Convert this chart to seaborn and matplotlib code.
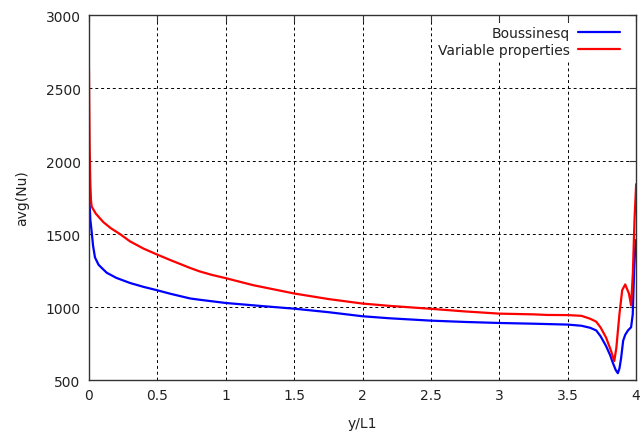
import numpy as np
import pandas as pd
import matplotlib
matplotlib.use("Agg")
import matplotlib.pyplot as plt
import seaborn as sns

# ---------------- DATA ----------------
x_bous = [0, 0.003, 0.006, 0.01, 0.02, 0.03, 0.044, 0.07, 0.1, 0.13, 0.2, 0.3,
          0.4, 0.495, 0.6, 0.739, 0.81, 1.0, 1.25, 1.5, 1.75, 2.0, 2.2, 2.5,
          2.75, 3.0, 3.25, 3.5, 3.6, 3.664, 3.708, 3.74, 3.78, 3.81, 3.83, 3.85,
          3.866, 3.878, 3.89, 3.905, 3.92, 3.94, 3.963, 3.975, 3.985, 3.993, 4.0]
nu_bous = [1970, 1800, 1680, 1600, 1514, 1420, 1340, 1290, 1262, 1235, 1200, 1165,
           1138, 1116, 1090, 1059, 1050, 1028, 1008, 989, 965, 937, 923, 907,
           898, 891, 886, 880, 872, 858, 840, 800, 733, 670, 617, 570,
           547, 580, 651, 770, 810, 840, 862, 950, 1250, 1400, 1460]

x_var = [0, 0.002, 0.005, 0.01, 0.015, 0.02, 0.05, 0.105, 0.16, 0.227, 0.3, 0.4,
         0.495, 0.6, 0.739, 0.81, 0.9, 1.0, 1.2, 1.5, 1.75, 2.0, 2.2, 2.5, 2.75,
         3.0, 3.25, 3.35, 3.5, 3.6, 3.664, 3.708, 3.74, 3.78, 3.817, 3.84, 3.855,
         3.878, 3.898, 3.92, 3.947, 3.963, 3.976, 3.988, 4.0]
nu_var = [2630, 2400, 2100, 1850, 1730, 1688, 1640, 1582, 1540, 1500, 1450, 1400,
          1361, 1320, 1268, 1244, 1220, 1198, 1150, 1093, 1055, 1024, 1008, 988, 970,
          955, 950, 946, 945, 940, 920, 900, 860, 791, 698, 630, 720,
          954, 1116, 1155, 1093, 1012, 1233, 1600, 1842]

labels = ["Boussinesq", "Variable properties"]
colors = ["#0000ff", "#ff0000"]

df = pd.concat([
    pd.DataFrame({"y/L1": x_bous, "avg(Nu)": nu_bous, "case": labels[0]}),
    pd.DataFrame({"y/L1": x_var, "avg(Nu)": nu_var, "case": labels[1]}),
])

# ---------------- PLOT ----------------
sns.set_style("white")
plt.rcParams["font.family"] = ["DejaVu Sans"]
plt.rcParams["text.color"] = "#222222"

fig = plt.figure(figsize=(6.4, 4.35), dpi=100)
ax = fig.add_axes([0.139, 0.124, 0.855, 0.839])

sns.lineplot(data=df, x="y/L1", y="avg(Nu)", hue="case",
             palette=dict(zip(labels, colors)), sort=False, estimator=None,
             linewidth=1.6, ax=ax)

ax.set_xlim(0, 4)
ax.set_ylim(500, 3000)
ax.set_xticks(np.arange(0, 4.01, 0.5))
ax.set_xticklabels(["0", "0.5", "1", "1.5", "2", "2.5", "3", "3.5", "4"])
ax.set_yticks(np.arange(500, 3001, 500))

ax.grid(True, color="black", linestyle=(0, (3, 3)), linewidth=0.7)
ax.set_axisbelow(True)
for s in ax.spines.values():
    s.set_color("#333333")
    s.set_linewidth(1.0)
ax.tick_params(direction="in", length=5, color="#333333", labelsize=10,
               labelcolor="#222222", top=True, right=True, pad=6)

ax.set_xlabel("y/L1", fontsize=10, color="#222222", labelpad=10)
ax.set_ylabel("avg(Nu)", fontsize=10, color="#222222", labelpad=12)

# gnuplot-style key: blank box over the grid, text before sample
leg = ax.legend(loc="upper right", bbox_to_anchor=(0.99, 1.0), frameon=True,
                facecolor="white", edgecolor="none", framealpha=1.0,
                fancybox=False, markerfirst=False, fontsize=10,
                handlelength=3.0, handletextpad=0.6, labelspacing=0.2,
                borderaxespad=0.58, borderpad=0.22, title=None)

fig.savefig("out.png", dpi=100)
